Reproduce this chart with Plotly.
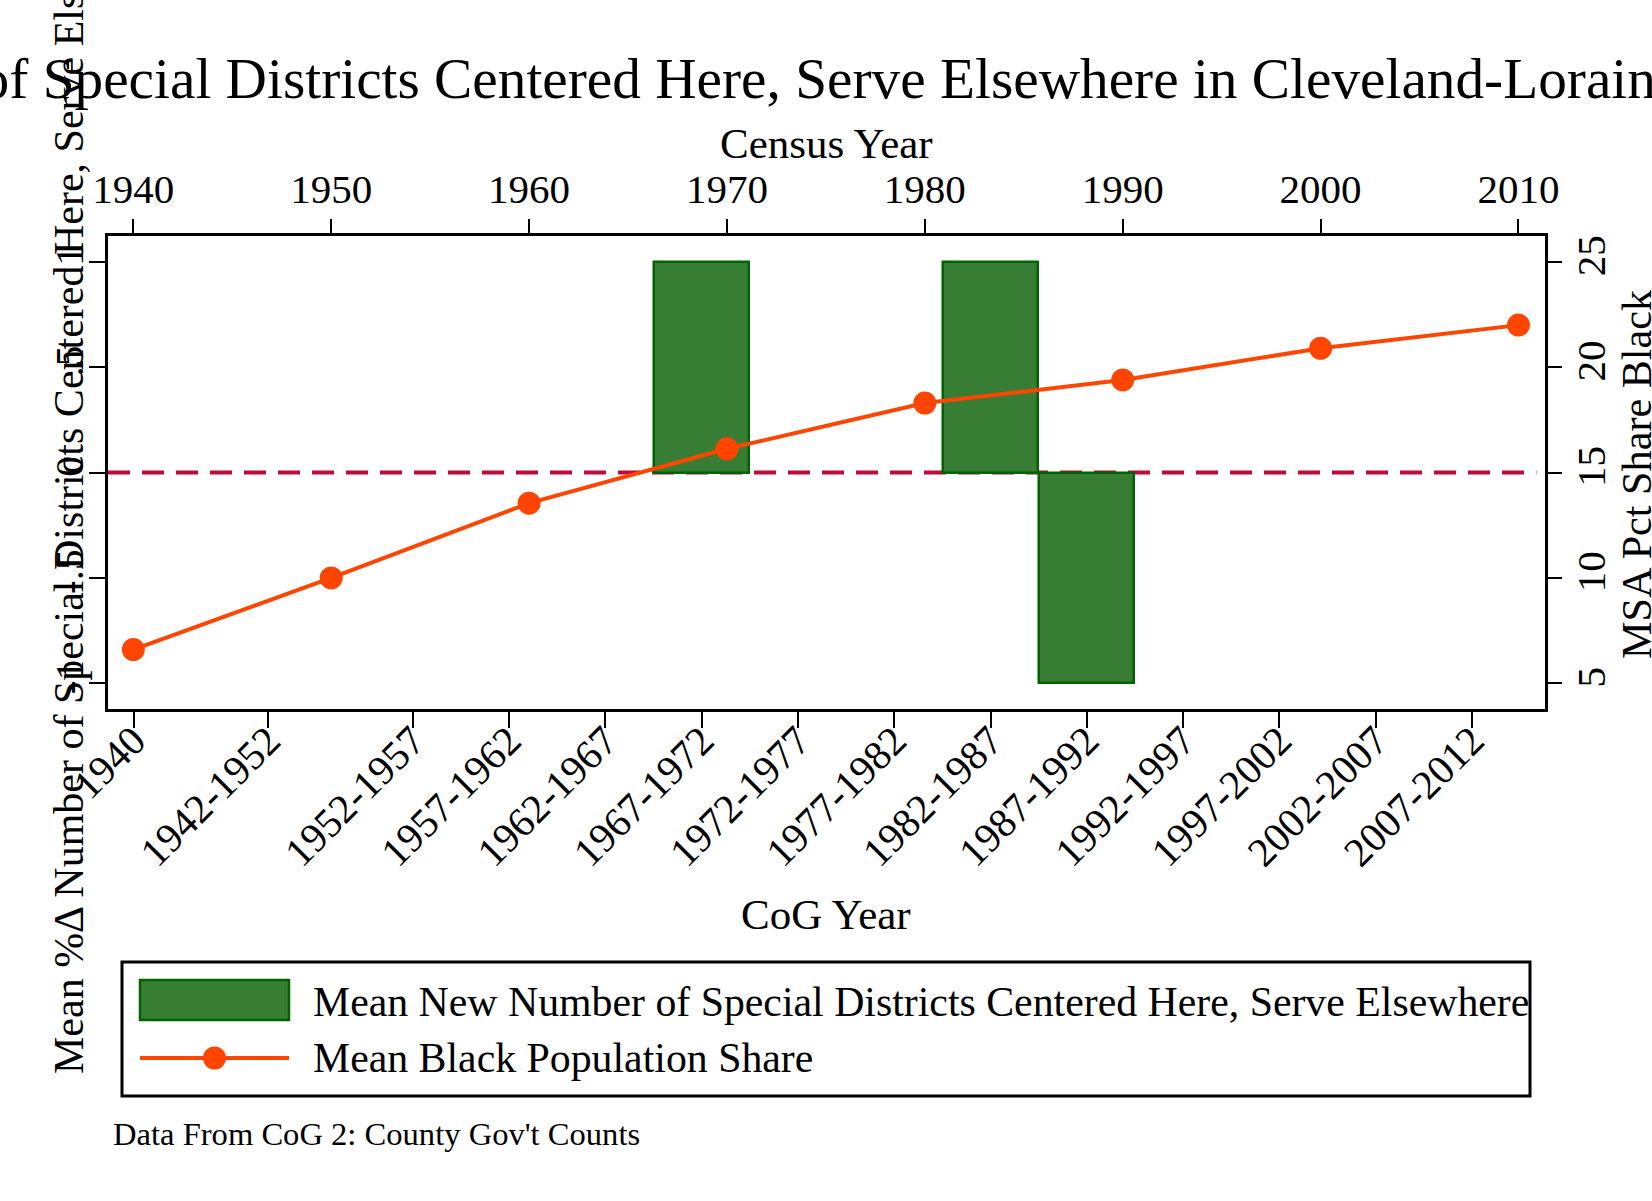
import plotly.graph_objects as go

# ---------------- data ----------------
cog_labels = ["1940", "1942-1952", "1952-1957", "1957-1962", "1962-1967", "1967-1972",
              "1972-1977", "1977-1982", "1982-1987", "1987-1992", "1992-1997",
              "1997-2002", "2002-2007", "2007-2012"]
new_districts = [0, 0, 0, 0, 0, 1, 0, 0, 1, -1, 0, 0, 0, 0]

census_years = [1940, 1950, 1960, 1970, 1980, 1990, 2000, 2010]
black_share = [6.6, 10.0, 13.55, 16.13, 18.3, 19.4, 20.9, 22.0]

left_ticks = [-1, -0.5, 0, 0.5, 1]
left_ticktext = ["-1", "-.5", "0", ".5", "1"]
right_ticks = [5, 10, 15, 20, 25]

title_text = ("Mean %\u0394 Number of Special Districts Centered Here, Serve Elsewhere "
              "in Cleveland-Lorain-Elyria, OH")
ylab_left = "Mean %\u0394 Number of Special Districts Centered Here, Serve Elsewhere"
ylab_right = "MSA Pct Share Black"
leg1 = "Mean New Number of Special Districts Centered Here, Serve Elsewhere"
leg2 = "Mean Black Population Share"
note = "Data From CoG 2: County Gov't Counts"


def mid_year(lbl):
    parts = [float(p) for p in lbl.split("-")]
    return sum(parts) / len(parts)


cog_x = [mid_year(l) for l in cog_labels]

# ---------------- layout geometry ----------------
FW, FH = 1652, 1201
L, R, T, B = 108, 107, 236, 492
PW, PH = FW - L - R, FH - T - B
FONT = "Liberation Serif, Times New Roman, serif"
GREEN = "#387d34"
GREEN_EDGE = "#006400"
ORANGE = "#ff4500"
CRIMSON = "#be0a3c"


def px(x):
    return (x - L) / PW


def py(y):
    return 1 - (y - T) / PH


fig = go.Figure()

fig.add_trace(go.Bar(
    x=cog_x, y=new_districts, width=4.93,
    marker=dict(color=GREEN,
                line=dict(color=GREEN_EDGE,
                          width=[2.5 if v != 0 else 0 for v in new_districts])),
    xaxis="x", yaxis="y", showlegend=False, name=leg1,
))
fig.add_trace(go.Scatter(
    x=census_years, y=black_share, mode="lines+markers",
    line=dict(color=ORANGE, width=4),
    marker=dict(color=ORANGE, size=23),
    xaxis="x2", yaxis="y2", showlegend=False, name=leg2,
))

tickfont = dict(family=FONT, size=41, color="black")
axis_common = dict(showgrid=False, zeroline=False, ticks="outside", ticklen=16,
                   tickwidth=2, tickcolor="black", tickfont=tickfont)

shapes = [
    # dashed reference line at 0
    dict(type="line", xref="paper", yref="y", x0=0, x1=0.994, y0=0, y1=0,
         line=dict(color=CRIMSON, width=4, dash="22px,12px"), layer="below"),
    # legend box
    dict(type="rect", xref="paper", yref="paper", x0=px(122), x1=px(1530),
         y0=py(962), y1=py(1096), line=dict(color="black", width=3),
         fillcolor="rgba(0,0,0,0)"),
    # legend bar symbol
    dict(type="rect", xref="paper", yref="paper", x0=px(140), x1=px(289),
         y0=py(980), y1=py(1020), line=dict(color=GREEN_EDGE, width=2.5),
         fillcolor=GREEN),
    # legend line symbol
    dict(type="line", xref="paper", yref="paper", x0=px(140), x1=px(289),
         y0=py(1058), y1=py(1058), line=dict(color=ORANGE, width=4)),
    dict(type="circle", xref="paper", yref="paper", x0=px(203), x1=px(226),
         y0=py(1046.5), y1=py(1069.5), line=dict(color=ORANGE, width=0),
         fillcolor=ORANGE),
]

ann = [
    dict(text=title_text, x=px(-464), y=py(78), xanchor="left", yanchor="middle",
         font=dict(family=FONT, size=57.3, color="black")),
    dict(text="Census Year", x=px(826), y=py(143), xanchor="center", yanchor="middle",
         font=dict(family=FONT, size=43, color="black")),
    dict(text="CoG Year", x=px(826), y=py(914), xanchor="center", yanchor="middle",
         font=dict(family=FONT, size=43, color="black")),
    dict(text=ylab_left, x=px(69), y=py(473), xanchor="center", yanchor="middle",
         textangle=-90, font=dict(family=FONT, size=42, color="black")),
    dict(text=ylab_right, x=px(1636), y=py(474), xanchor="center", yanchor="middle",
         textangle=-90, font=dict(family=FONT, size=42.2, color="black")),
    dict(text=leg1, x=px(311), y=py(1002), xanchor="left", yanchor="middle",
         font=dict(family=FONT, size=41.8, color="black")),
    dict(text=leg2, x=px(311), y=py(1058), xanchor="left", yanchor="middle",
         font=dict(family=FONT, size=41.8, color="black")),
    dict(text=note, x=px(111), y=py(1134), xanchor="left", yanchor="middle",
         font=dict(family=FONT, size=32.6, color="black")),
]
for a in ann:
    a.update(xref="paper", yref="paper", showarrow=False)

fig.update_layout(
    width=FW, height=FH,
    margin=dict(l=L, r=R, t=T, b=B, autoexpand=False),
    paper_bgcolor="white", plot_bgcolor="white",
    font=dict(family=FONT, color="black"),
    showlegend=False,
    bargap=0,
    xaxis=dict(range=[1938.675, 2013.29], tickvals=cog_x, ticktext=cog_labels,
               tickangle=-45, showline=True, linewidth=3, linecolor="black",
               mirror=True, ticklabelstandoff=-28, **axis_common),
    xaxis2=dict(range=[1938.72, 2011.34], tickvals=census_years, overlaying="x",
                side="top", showline=False, **axis_common),
    yaxis=dict(range=[-1.122, 1.123], tickvals=left_ticks, ticktext=left_ticktext,
               tickangle=-90, showline=True, linewidth=3, linecolor="black",
               mirror=True, ticklabelstandoff=-10, **axis_common),
    yaxis2=dict(range=[3.78, 26.23], tickvals=right_ticks, overlaying="y",
                side="right", tickangle=-90, showline=False,
                ticklabelstandoff=-6, **axis_common),
    shapes=shapes,
    annotations=ann,
)

fig.write_html("out.html")
